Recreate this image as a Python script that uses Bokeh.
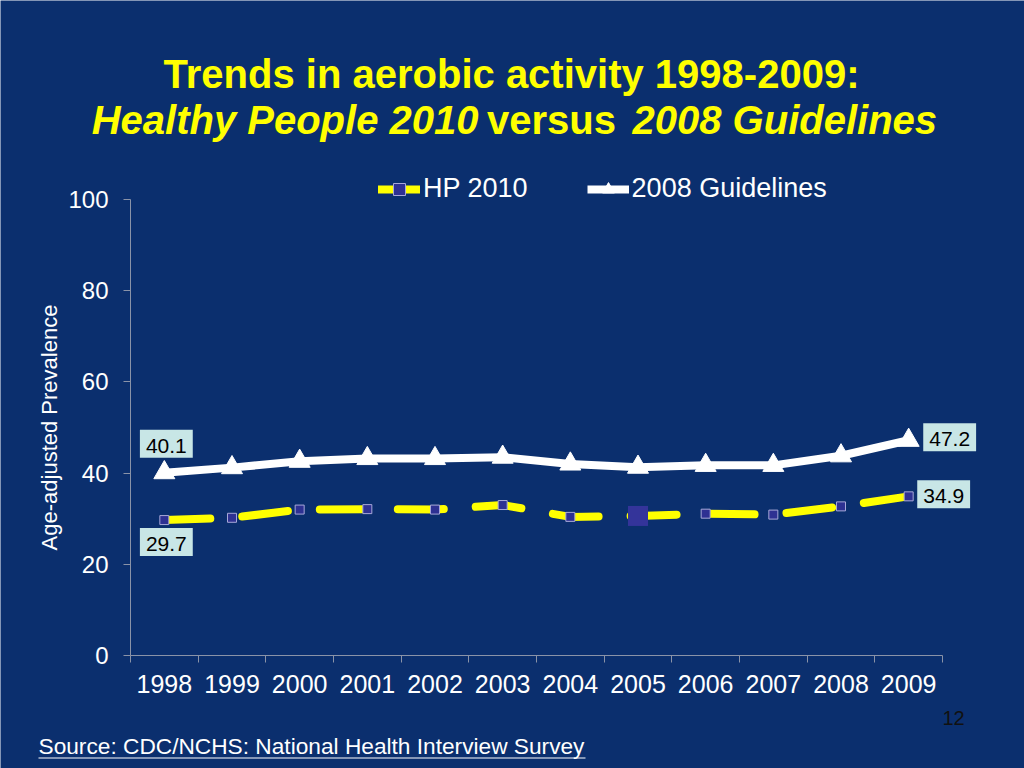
from bokeh.plotting import figure
from bokeh.models import Label, Legend, LegendItem, FixedTicker, BoxAnnotation, Range1d
from bokeh.embed import file_html
from bokeh.resources import INLINE

# ---- data ----
years = [1998, 1999, 2000, 2001, 2002, 2003, 2004, 2005, 2006, 2007, 2008, 2009]
hp2010 = [29.7, 30.2, 32.0, 32.1, 32.0, 33.0, 30.4, 30.6, 31.1, 30.9, 32.7, 34.9]
guidelines = [40.1, 41.2, 42.6, 43.2, 43.2, 43.5, 42.0, 41.3, 41.7, 41.7, 43.8, 47.2]
y_ticks = [0, 20, 40, 60, 80, 100]
series_names = ["HP 2010", "2008 Guidelines"]
title_line1 = "Trends in aerobic activity 1998-2009:"
title_line2 = ["Healthy People 2010", "versus", "2008 Guidelines"]
y_label = "Age-adjusted Prevalence"
source_text = "Source: CDC/NCHS: National Health Interview Survey"
page_no = "12"

# ---- layout constants (pixels) ----
W, H = 1024, 768
AX_L, AX_R, AX_T, AX_B = 130, 942, 199, 655   # axis box in canvas pixels
X0, X1 = years[0] - 0.5, years[-1] + 0.5
Y0, Y1 = y_ticks[0], y_ticks[-1]
ppx = (AX_R - AX_L) / (X1 - X0)
ppy = (AX_B - AX_T) / (Y1 - Y0)
x_range = Range1d(X0 - AX_L / ppx, X1 + (W - AX_R) / ppx)
y_range = Range1d(Y0 - (H - AX_B) / ppy, Y1 + AX_T / ppy)

BG = "#0B2F6E"
FONT = "Liberation Sans"
YELLOW = "#FFFF00"
AXIS = "#8A93A8"
BOX = "#C8E6E6"

p = figure(width=W, height=H, output_backend="svg", toolbar_location=None,
           x_range=x_range, y_range=y_range,
           min_border=0, min_border_left=0, min_border_right=0,
           min_border_top=0, min_border_bottom=0,
           background_fill_color=BG, border_fill_color=BG, outline_line_color=None)
p.grid.visible = False

# x axis
xa = p.xaxis[0]
xa.fixed_location = Y0
xa.bounds = (X0, X1)
xa.ticker = FixedTicker(ticks=years, minor_ticks=[X0 + i for i in range(len(years) + 1)])
xa.major_label_overrides = {y: str(y) for y in years}
xa.major_tick_out = 0
xa.major_tick_in = 0
xa.minor_tick_out = 7
xa.minor_tick_in = 0
xa.minor_tick_line_color = AXIS
xa.axis_line_color = AXIS
xa.major_label_text_color = "white"
xa.major_label_text_font = FONT
xa.major_label_text_font_size = "25px"
xa.major_label_standoff = 12

# y axis
ya = p.yaxis[0]
ya.fixed_location = X0
ya.bounds = (Y0, Y1)
ya.ticker = FixedTicker(ticks=y_ticks)
ya.major_tick_out = 7
ya.major_tick_in = 0
ya.minor_tick_out = 0
ya.minor_tick_in = 0
ya.major_tick_line_color = AXIS
ya.axis_line_color = AXIS
ya.major_label_text_color = "white"
ya.major_label_text_font = FONT
ya.major_label_text_font_size = "24px"
ya.major_label_standoff = 15
ya.axis_label = y_label
ya.axis_label_text_color = "white"
ya.axis_label_text_font = FONT
ya.axis_label_text_font_size = "22px"
ya.axis_label_text_font_style = "normal"
ya.axis_label_standoff = 3

# HP 2010 series
hp_line = p.line(years, hp2010, line_color=YELLOW, line_width=8,
                 line_dash="46 32", line_cap="round")
hp_pts = p.scatter(years, hp2010, marker="square", size=9,
                   fill_color="#2E3192", line_color="#A8A8D8", line_width=1)
p.scatter([years[7]], [hp2010[7]], marker="square", size=20,
          fill_color="#34349A", line_color=None)

# 2008 Guidelines series
g_line = p.line(years, guidelines, line_color="white", line_width=8, line_join="round")
g_pts = p.scatter(years, guidelines, marker="triangle", size=21,
                  fill_color="white", line_color="white")

legend = Legend(items=[LegendItem(label=series_names[0], renderers=[hp_line, hp_pts]),
                       LegendItem(label=series_names[1], renderers=[g_line, g_pts])],
                orientation="horizontal", location=(378, H - 204),
                border_line_alpha=0, background_fill_alpha=0,
                label_text_color="white", label_text_font=FONT,
                label_text_font_size="27px", label_height=30,
                glyph_width=42, glyph_height=30,
                label_standoff=3, spacing=59, padding=0, margin=0)
p.add_layout(legend)

# data labels
def data_label(x, v, dx, dy):
    p.add_layout(Label(x=x, y=v, text=f"{v}", x_offset=dx, y_offset=dy,
                       text_align="center", text_baseline="middle",
                       text_font=FONT, text_font_size="21px", text_color="black",
                       background_fill_color=BOX,
                       padding=dict(left=6, right=6, top=9, bottom=5)))

data_label(years[0], guidelines[0], 2, 29)
data_label(years[0], hp2010[0], 2, -22)
data_label(years[-1], guidelines[-1], 41, 3)
data_label(years[-1], hp2010[-1], 35, 2)

# page texts (screen units from canvas bottom-left)
def slabel(x, y, text, size, style="normal", color="white", align="left", baseline="alphabetic"):
    p.add_layout(Label(x=x, y=H - y, x_units="screen", y_units="screen", text=text,
                       text_font=FONT, text_font_size=size, text_font_style=style,
                       text_color=color, text_align=align, text_baseline=baseline))

slabel(511, 73, title_line1, "40px", "bold", YELLOW, "center")
slabel(478, 119, title_line2[0], "40px", "bold italic", YELLOW, "right")
slabel(551, 119, title_line2[1], "40px", "bold", YELLOW, "center")
slabel(632, 119, title_line2[2], "40px", "bold italic", YELLOW, "left")

slabel(38, 745, source_text, "22.7px", "normal", "white", "left")
p.add_layout(BoxAnnotation(left=38, right=585, bottom=H - 758, top=H - 757,
                           left_units="screen", right_units="screen",
                           bottom_units="screen", top_units="screen",
                           fill_color="white", fill_alpha=1, line_color=None))
slabel(953, 717, page_no, "20px", "normal", "#111111", "center")

open("out.html", "w").write(file_html(p, INLINE))
